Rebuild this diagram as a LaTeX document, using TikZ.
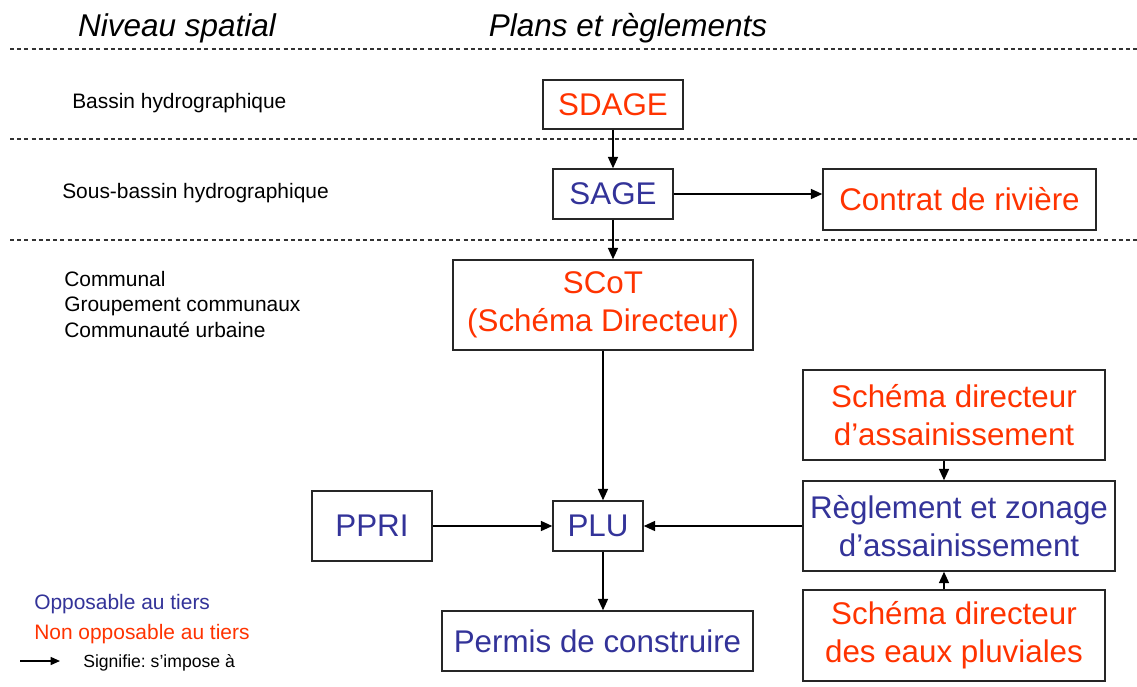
\documentclass[tikz,border=0pt]{standalone}
\usepackage{fontspec}
\setmainfont{Liberation Sans}
\usetikzlibrary{arrows.meta}
\definecolor{rouge}{HTML}{FF3300}
\definecolor{bleu}{HTML}{333399}
\frenchspacing
\begin{document}
\begin{tikzpicture}[x=0.75pt,y=-0.75pt,
  box/.style 2 args={draw=black!85, line width=1.1pt, inner sep=0pt, align=center,
    minimum width=#1*0.75pt, minimum height=#2*0.75pt,
    font=\fontsize{23.5}{28.5}\selectfont},
  nonopp/.style={text=rouge},
  opp/.style={text=bleu},
  arr/.style={-{Triangle[length=8.5pt,width=7.5pt]}, line width=1.1pt},
  sepline/.style={draw=black!80, line width=0.8pt, dash pattern=on 3pt off 2.4pt},
  lvl/.style={anchor=base west, inner sep=0pt, font=\fontsize{15.7}{18}\selectfont},
  hdr/.style={anchor=base, inner sep=0pt, font=\fontsize{23.6}{28}\selectfont\itshape}]
\useasboundingbox[fill=white] (0,0) rectangle (1137,686);

% headers
\node[hdr] (h1) at (177,36) {Niveau spatial};
\node[hdr] (h2) at (628,36) {Plans et règlements};

% dashed separators
\draw[sepline] (10,49) -- (1137,49);
\draw[sepline] (10,139) -- (1137,139);
\draw[sepline] (10,240) -- (1137,240);

% level labels
\node[lvl] (l1) at (72,108) {Bassin hydrographique};
\node[lvl] (l2) at (62,198) {Sous-bassin hydrographique};
\node[lvl] (l3) at (64,286) {Communal};
\node[lvl] (l4) at (64,311) {Groupement communaux};
\node[lvl] (l5) at (64,337) {Communauté urbaine};

% boxes
\node[box={140}{49}, nonopp] (sdage) at (613,104.5) {SDAGE};
\node[box={120}{50}, opp] (sage) at (613,194) {SAGE};
\node[box={273}{61}, nonopp] (contrat) at (959.5,199.5) {Contrat de rivière};
\node[box={300}{90}, nonopp] (scot) at (603,305) {SCoT\\(Schéma Directeur)};
\node[box={302}{90}, nonopp] (sda) at (954,415) {Schéma directeur\\d’assainissement};
\node[box={312}{90}, opp] (regl) at (959,526) {Règlement et zonage\\d’assainissement};
\node[box={302}{91}, nonopp] (sdep) at (954,635.5) {Schéma directeur\\des eaux pluviales};
\node[box={120}{70}, opp] (ppri) at (372,526) {PPRI};
\node[box={90}{50}, opp] (plu) at (598,526) {PLU};
\node[box={311}{60}, opp] (permis) at (597.5,641) {Permis de construire};

% connectors
\draw[arr] (sdage) -- (sage);
\draw[arr] (sage.east) -- (sage.east -| contrat.west);
\draw[arr] (sage) -- (sage |- scot.north);
\draw[arr] (scot) -- (scot |- plu.north);
\draw[arr] (ppri) -- (plu);
\draw[arr] (regl) -- (plu);
\draw[arr] (scot.south |- plu.south) -- (scot.south |- permis.north);
\draw[arr] ([xshift=-7.5pt]sda.south) -- ([xshift=-7.5pt]sda.south |- regl.north);
\draw[arr] ([xshift=-7.5pt]sdep.north) -- ([xshift=-7.5pt]sdep.north |- regl.south);

% legend
\node[lvl, text=bleu] (leg1) at (34,609) {Opposable au tiers};
\node[lvl, text=rouge] (leg2) at (34,639) {Non opposable au tiers};
\node[anchor=base west, inner sep=0pt, font=\fontsize{13.2}{15}\selectfont] (leg3) at (83,667) {Signifie: s’impose à};
\coordinate (la) at (20,661);
\coordinate (lb) at (60,661);
\draw[-{Triangle[length=7pt,width=6pt]}, line width=1pt] (la) -- (lb);
\end{tikzpicture}
\end{document}
